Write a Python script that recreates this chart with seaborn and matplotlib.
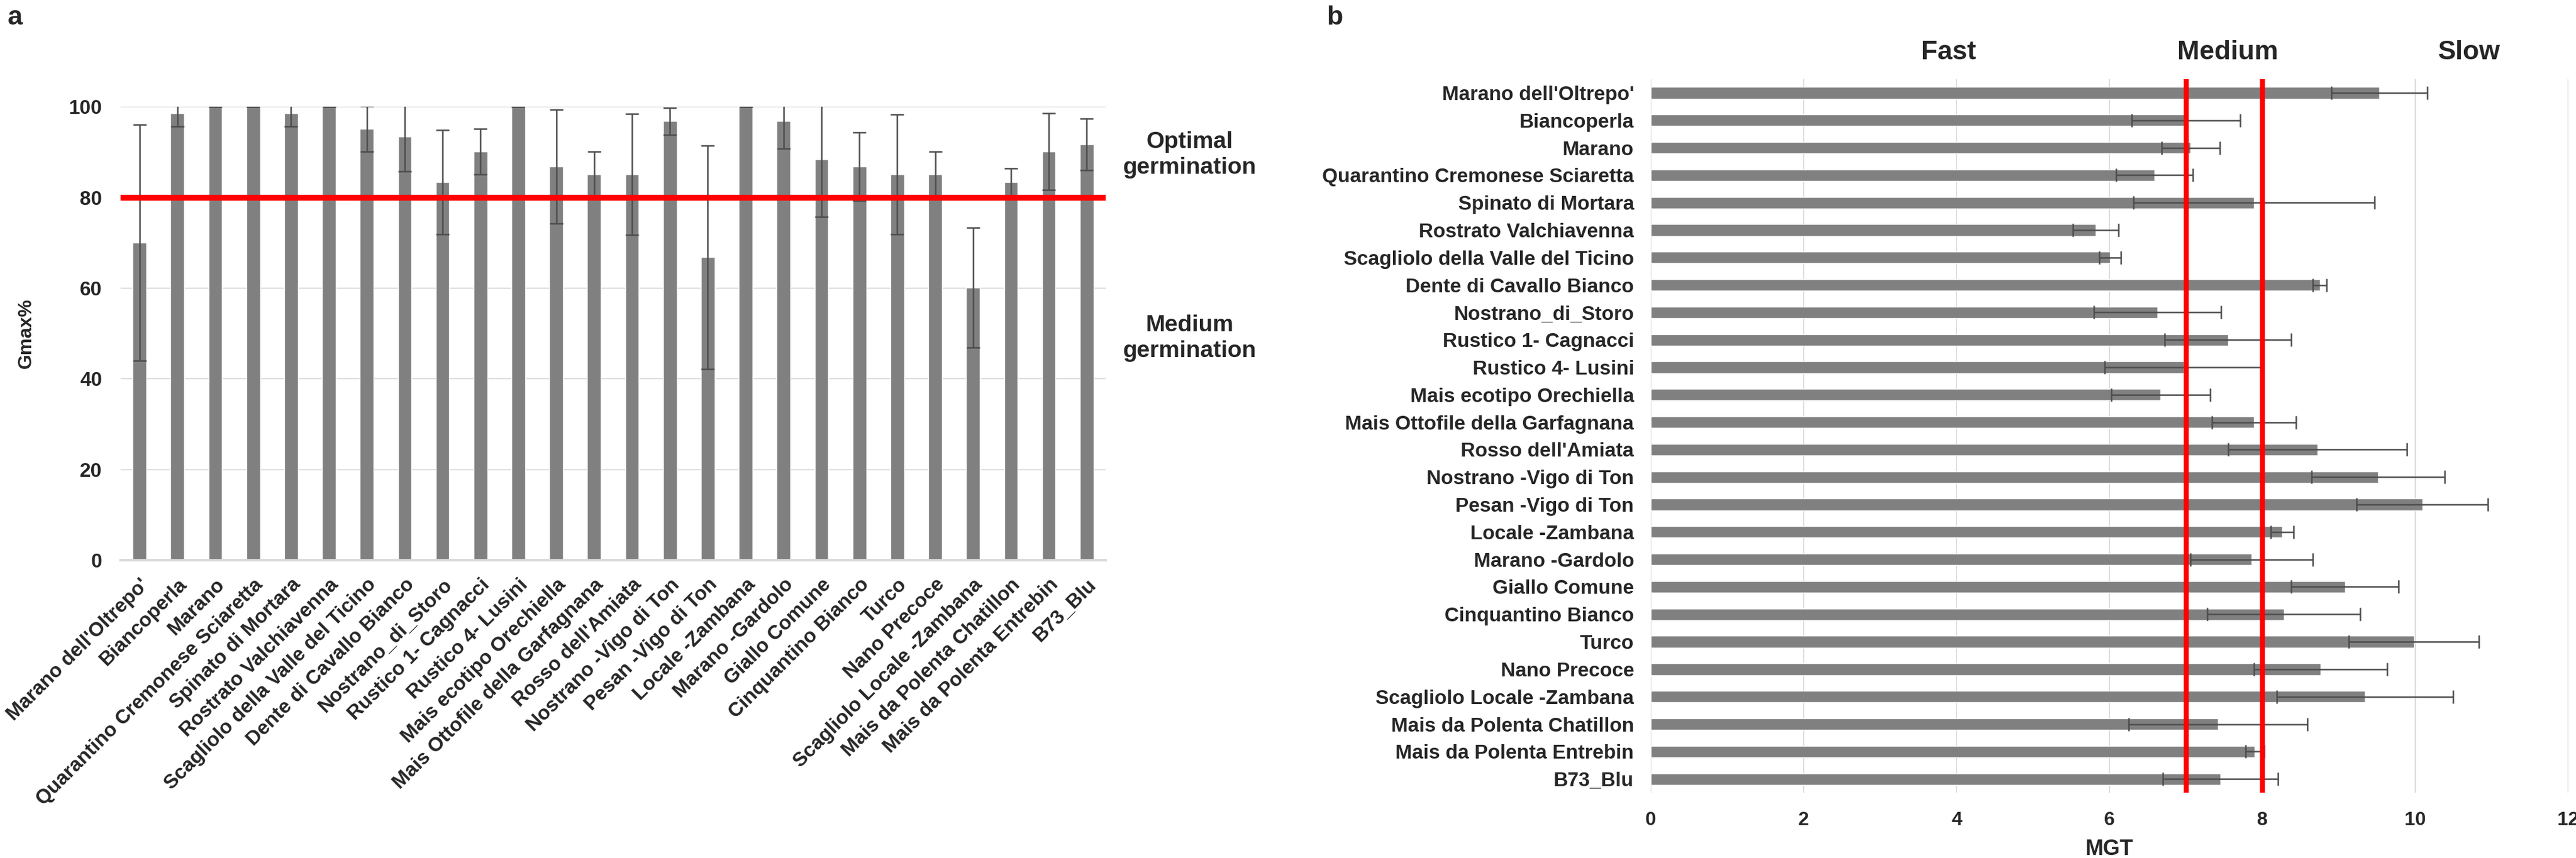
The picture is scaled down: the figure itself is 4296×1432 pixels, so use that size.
import matplotlib
matplotlib.use("Agg")
import matplotlib.pyplot as plt
import matplotlib.transforms as mtransforms
import seaborn as sns
import numpy as np
import pandas as pd

# maize landraces (same order in both panels)
varieties = ["Marano dell'Oltrepo'", "Biancoperla", "Marano", "Quarantino Cremonese Sciaretta",
             "Spinato di Mortara", "Rostrato Valchiavenna", "Scagliolo della Valle del Ticino",
             "Dente di Cavallo Bianco", "Nostrano_di_Storo", "Rustico 1- Cagnacci", "Rustico 4- Lusini",
             "Mais ecotipo Orechiella", "Mais Ottofile della Garfagnana", "Rosso dell'Amiata",
             "Nostrano -Vigo di Ton", "Pesan -Vigo di Ton", "Locale -Zambana", "Marano -Gardolo",
             "Giallo Comune", "Cinquantino Bianco", "Turco", "Nano Precoce", "Scagliolo Locale -Zambana",
             "Mais da Polenta Chatillon", "Mais da Polenta Entrebin", "B73_Blu"]

# panel a: maximum germination (%)
gmax = [70.0, 98.6, 100, 100, 98.6, 100, 95.1, 93.4, 83.4, 90.1, 100, 86.8, 85.1, 85.1,
        96.8, 66.8, 100, 96.8, 88.4, 86.8, 85.1, 85.1, 60.1, 83.4, 90.1, 91.7]
gmax_sd = [26.0, 3.0, 0, 0, 3.0, 0, 5.0, 7.7, 11.5, 5.0, 0, 12.6, 5.0, 13.3,
           3.0, 24.6, 0, 6.0, 12.7, 7.5, 13.2, 5.0, 13.2, 3.0, 8.5, 5.7]

# panel b: mean germination time
mgt = [9.53, 7.0, 7.06, 6.59, 7.89, 5.82, 6.01, 8.75, 6.63, 7.55, 6.97, 6.67, 7.89, 8.72,
       9.51, 10.09, 8.26, 7.86, 9.08, 8.28, 9.98, 8.76, 9.34, 7.42, 7.90, 7.45]
mgt_sd = [0.63, 0.71, 0.38, 0.5, 1.58, 0.3, 0.14, 0.09, 0.83, 0.83, 1.03, 0.65, 0.55, 1.17,
          0.87, 0.86, 0.15, 0.8, 0.7, 1.0, 0.85, 0.87, 1.15, 1.17, 0.12, 0.75]

gmax_threshold = 80
mgt_thresholds = [7, 8]
speed_labels = ["Fast", "Medium", "Slow"]
speed_pos = [3.9, 7.55, 10.7]

df = pd.DataFrame({"variety": varieties, "gmax": gmax, "gmax_sd": gmax_sd,
                   "mgt": mgt, "mgt_sd": mgt_sd})

sns.set_style("white")
plt.rcParams["font.family"] = ["Liberation Sans", "DejaVu Sans"]
plt.rcParams["font.weight"] = "bold"

BAR = "#808080"
ERR = "#4d4d4d"
GRID = "#d9d9d9"

fig = plt.figure(figsize=(42.96, 14.32), dpi=100)

# ---------------- panel a
ax1 = fig.add_axes([0.0468, 0.347, 0.3824, 0.5286])
sns.barplot(data=df, x="variety", y="gmax", color=BAR, saturation=1, width=0.36,
            errorbar=None, ax=ax1, zorder=2)
pos = np.arange(len(df))
ax1.errorbar(pos, df["gmax"], yerr=df["gmax_sd"], fmt="none", ecolor=ERR,
             elinewidth=1.8, capsize=8, capthick=1.8, zorder=3)
ax1.axhline(gmax_threshold, color="#ff0000", lw=7, zorder=4)
ax1.set_ylim(0, 100)
ax1.set_xlim(-0.5, len(df) - 0.5)
ax1.set_yticks(range(0, 101, 20))
ax1.yaxis.grid(True, color=GRID, lw=1.3, zorder=0)
ax1.set_axisbelow(True)
for s in ["left", "right", "top"]:
    ax1.spines[s].set_visible(False)
ax1.spines["bottom"].set_color(GRID)
ax1.spines["bottom"].set_linewidth(3)
ax1.tick_params(axis="both", length=0)
ax1.tick_params(axis="y", labelsize=24, pad=22)
ax1.tick_params(axis="x", labelsize=24, pad=18)
plt.setp(ax1.get_xticklabels(), rotation=45, ha="right", va="top", rotation_mode="anchor",
         fontweight="bold")
plt.setp(ax1.get_yticklabels(), fontweight="bold")
ax1.set_xlabel("")
ax1.set_ylabel("Gmax%", fontsize=23, fontweight="bold", labelpad=40)
ax1.text(1.085, 0.894, "Optimal\ngermination", transform=ax1.transAxes, ha="center",
         va="center", fontsize=28, fontweight="bold", linespacing=1.25)
ax1.text(1.085, 0.489, "Medium\ngermination", transform=ax1.transAxes, ha="center",
         va="center", fontsize=28, fontweight="bold", linespacing=1.25)

# ---------------- panel b
ax2 = fig.add_axes([0.6408, 0.0761, 0.3562, 0.8317])
sns.barplot(data=df, x="mgt", y="variety", orient="h", color=BAR, saturation=1, width=0.42,
            errorbar=None, ax=ax2, zorder=2)
ax2.errorbar(df["mgt"], pos, xerr=df["mgt_sd"], fmt="none", ecolor=ERR,
             elinewidth=1.8, capsize=8, capthick=1.8, zorder=3)
for t in mgt_thresholds:
    ax2.axvline(t, color="#ff0000", lw=6, zorder=4)
ax2.set_xlim(0, 12)
ax2.set_ylim(len(df) - 0.5, -0.5)
ax2.set_xticks(range(0, 13, 2))
ax2.xaxis.grid(True, color=GRID, lw=1.3, zorder=0)
ax2.set_axisbelow(True)
for s in ["left", "right", "top", "bottom"]:
    ax2.spines[s].set_visible(False)
ax2.tick_params(axis="both", length=0)
ax2.tick_params(axis="y", labelsize=24, pad=20)
ax2.tick_params(axis="x", labelsize=23, pad=22)
plt.setp(ax2.get_xticklabels(), fontweight="bold")
plt.setp(ax2.get_yticklabels(), fontweight="bold")
ax2.set_ylabel("")
ax2.set_xlabel("MGT", fontsize=26, fontweight="bold", labelpad=12)
trans = mtransforms.blended_transform_factory(ax2.transData, ax2.transAxes)
for lab, xp in zip(speed_labels, speed_pos):
    ax2.text(xp, 1.037, lab, transform=trans, ha="center", va="center",
             fontsize=32, fontweight="bold")

fig.text(0.003, 0.994, "a", ha="left", va="top", fontsize=32, fontweight="bold")
fig.text(0.515, 0.994, "b", ha="left", va="top", fontsize=32, fontweight="bold")

fig.savefig("out.png", dpi=100)
